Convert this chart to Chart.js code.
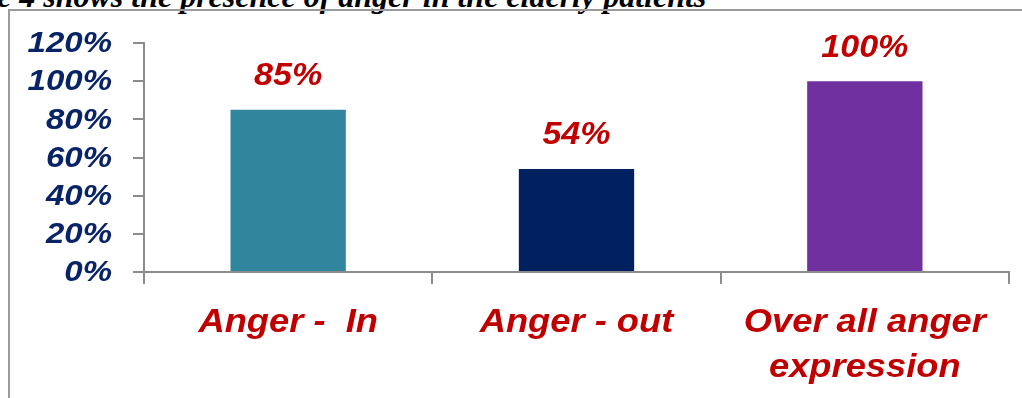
<!DOCTYPE html>
<html lang="en">
<head>
  <meta charset="UTF-8" />
  <title>Anger in the elderly patients</title>
  <script src="https://cdn.jsdelivr.net/npm/chart.js"></script>
  <style>
    body { margin: 0; background: #fff; overflow: hidden; }
    #wrap { position: relative; width: 1022px; height: 398px; overflow: hidden; }
    #frame {
      position: absolute; left: 8px; top: 9px; right: -4px; bottom: -4px;
      border-left: 2px solid #9a9a9a; border-top: 2px solid #9a9a9a;
    }
    #caption {
      position: absolute; left: -3px; top: -22px; white-space: nowrap; line-height: 32px;
      font: italic bold 32px "Liberation Serif", "Times New Roman", serif; color: #000;
    }
    canvas { position: absolute; left: 0; top: 0; }
  </style>
</head>
<body>
  <div id="wrap">
    <div id="caption">e 4 shows the presence of anger in the elderly patients</div>
    <div id="frame"></div>
    <canvas id="angerChart" width="1022" height="398"></canvas>
  </div>

  <script>
    // data
    const categories = [['Anger -  In'], ['Anger - out'], ['Over all anger', 'expression']];
    const percentValues = [85, 54, 100];
    const barColors = ['#31859C', '#002060', '#7030A0'];
    const yTicks = [0, 20, 40, 60, 80, 100, 120];

    const axisGrey = '#8c8c8c';
    const labelRed = '#C00000';
    const labelNavy = '#082466';
    const stretch = 1.1; // the text in the picture is a bit wider than Arial

    function wideText(ctx, text, x, y, align, base, font, color) {
      ctx.save();
      ctx.translate(x, y);
      ctx.scale(stretch, 1);
      ctx.font = font;
      ctx.fillStyle = color;
      ctx.textAlign = align;
      ctx.textBaseline = base;
      ctx.fillText(text, 0, 0);
      ctx.restore();
    }

    // all the labels: y ticks, category names, values above bars
    const textLayer = {
      id: 'textLayer',
      afterDraw(chart) {
        const ctx = chart.ctx;
        const xs = chart.scales.x, ys = chart.scales.y;

        yTicks.forEach(v => {
          wideText(ctx, v + '%', 112, ys.getPixelForValue(v) + 1, 'right', 'middle',
            'italic bold 30px "Liberation Sans", Arial, sans-serif', labelNavy);
        });

        categories.forEach((lines, i) => {
          const cx = xs.getPixelForTick(i);
          lines.forEach((line, j) => {
            wideText(ctx, line, cx, 332 + j * 45, 'center', 'alphabetic',
              'italic bold 33px "Liberation Sans", Arial, sans-serif', labelRed);
          });
        });

        chart.getDatasetMeta(0).data.forEach((bar, i) => {
          wideText(ctx, percentValues[i] + '%', bar.x, bar.y - 33, 'center', 'middle',
            'italic bold 31px "Liberation Sans", Arial, sans-serif', labelRed);
        });
      }
    };

    new Chart(document.getElementById('angerChart').getContext('2d'), {
      type: 'bar',
      data: {
        labels: categories,
        datasets: [{
          data: percentValues,
          backgroundColor: barColors,
          borderWidth: 0,
          barPercentage: 0.4,
          categoryPercentage: 1
        }]
      },
      options: {
        responsive: false,
        animation: false,
        layout: { padding: { top: 43, right: 13, left: 0, bottom: 0 } },
        plugins: { legend: { display: false }, tooltip: { enabled: false } },
        scales: {
          x: {
            afterFit(scale) { scale.height = 126; },
            border: { color: axisGrey, width: 2 },
            grid: { offset: true, drawOnChartArea: false, tickLength: 12, color: axisGrey, lineWidth: 2 },
            ticks: { display: false }
          },
          y: {
            min: 0,
            max: 120,
            afterFit(scale) { scale.width = 144; },
            afterBuildTicks(scale) { scale.ticks = yTicks.map(v => ({ value: v })); },
            border: { color: axisGrey, width: 2 },
            grid: { drawOnChartArea: false, tickLength: 11, color: axisGrey, lineWidth: 2 },
            ticks: { display: false }
          }
        }
      },
      plugins: [textLayer]
    });
  </script>
</body>
</html>
